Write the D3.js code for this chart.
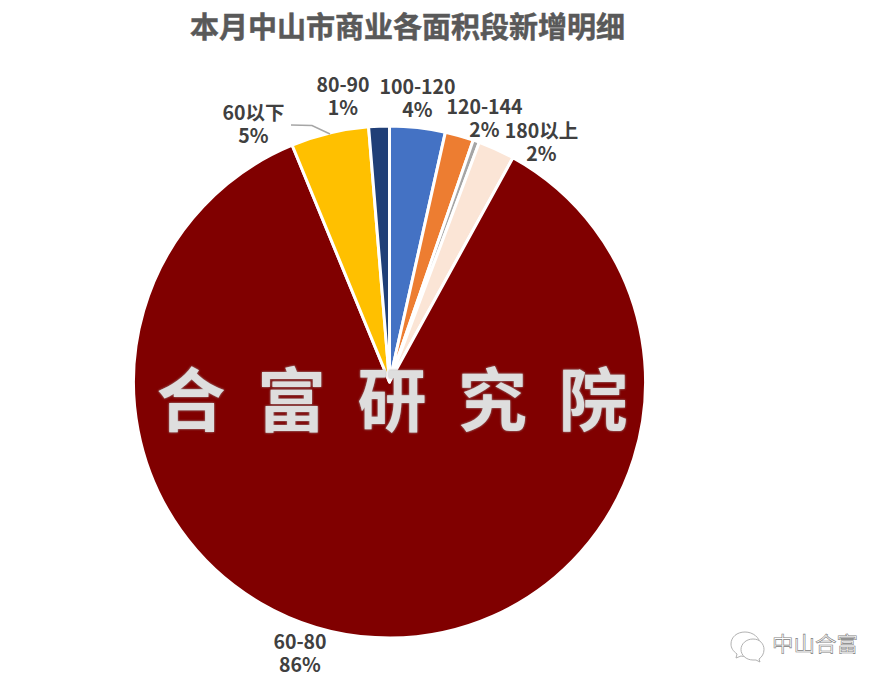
<!DOCTYPE html>
<html>
<head>
<meta charset="utf-8">
<script src="https://cdn.jsdelivr.net/npm/d3@7"></script>
<style>
    html, body { margin: 0; padding: 0; background: #fff; }
    svg { display: block; }
    text { font-family: "Noto Sans CJK SC", "Open Sans", sans-serif; }
</style>
</head>
<body>
<div id="chart"></div>
<script>
// Values, clockwise from 12 o'clock
const categories = ["100-120", "120-144", "144-180", "180以上", "60-80", "60以下", "80-90"];
const shares = [3.5, 1.8, 0.4, 2.3, 85.7, 4.9, 1.3];
const colors = ["#4472c4", "#ed7d31", "#a5a5a5", "#fbe5d6", "#800000", "#ffc000", "#203f77"];
const chartTitle = "本月中山市商业各面积段新增明细";
const watermark = "合富研究院";
const brand = "中山合富";

const width = 887;
const height = 683;
const cx = 389.5;
const cy = 382;
const radius = 256;

// Where each data label sits (the 144-180 slice has none)
const labelAt = {
    "100-120": [417.5, 94],
    "120-144": [484.5, 114],
    "180以上": [541.5, 138],
    "60-80": [300, 649],
    "60以下": [253.5, 120],
    "80-90": [343, 92]
};

const svg = d3.select("#chart")
    .append("svg")
    .attr("width", width)
    .attr("height", height);

const defs = svg.append("defs");
const bevel = defs.append("filter").attr("id", "bevel")
    .attr("x", "-10%").attr("y", "-10%").attr("width", "120%").attr("height", "120%");
bevel.append("feGaussianBlur").attr("in", "SourceAlpha").attr("stdDeviation", 1.3).attr("result", "b");
bevel.append("feFlood").attr("flood-color", "#a0a0a0").attr("result", "c");
bevel.append("feComposite").attr("in", "c").attr("in2", "b").attr("operator", "in").attr("result", "s");
const merge = bevel.append("feMerge");
merge.append("feMergeNode").attr("in", "s");
merge.append("feMergeNode").attr("in", "SourceGraphic");

// Title
svg.append("text")
    .attr("x", 407.5)
    .attr("y", 38)
    .attr("text-anchor", "middle")
    .attr("font-size", 29)
    .attr("font-weight", 700)
    .attr("fill", "#595959")
    .attr("stroke", "#595959")
    .attr("stroke-width", 0.5)
    .text(chartTitle);

// Pie
const color = d3.scaleOrdinal(categories, colors);
const pie = d3.pie().sort(null).value((d, i) => shares[i]);
const arc = d3.arc().innerRadius(0).outerRadius(radius);

svg.append("g")
    .attr("transform", `translate(${cx},${cy})`)
    .selectAll("path")
    .data(pie(categories))
    .join("path")
    .attr("d", arc)
    .attr("fill", d => color(d.data))
    .attr("stroke", "#fff")
    .attr("stroke-width", 3)
    .attr("stroke-linejoin", "round");

// Leader line for the 60以下 label
svg.append("path")
    .attr("d", d3.line()([[330, 134], [312, 125.5], [291, 125]]))
    .attr("fill", "none")
    .attr("stroke", "#a6a6a6")
    .attr("stroke-width", 1.5);

// Data labels: category on the first line, rounded share on the second
const labels = svg.append("g")
    .selectAll("text")
    .data(categories.filter(c => labelAt[c]))
    .join("text")
    .attr("text-anchor", "middle")
    .attr("font-size", 19.5)
    .attr("font-weight", 700)
    .attr("fill", "#404040");

labels.append("tspan")
    .attr("x", d => labelAt[d][0])
    .attr("y", d => labelAt[d][1])
    .text(d => d);

labels.append("tspan")
    .attr("x", d => labelAt[d][0])
    .attr("y", d => labelAt[d][1] + 23)
    .text(d => `${Math.round(shares[categories.indexOf(d)])}%`);

// Watermark over the pie
svg.append("g")
    .attr("filter", "url(#bevel)")
    .selectAll("text")
    .data(Array.from(watermark))
    .join("text")
    .attr("x", (d, i) => 191 + i * 100.5)
    .attr("y", 426)
    .attr("text-anchor", "middle")
    .attr("font-size", 69)
    .attr("font-weight", 700)
    .attr("fill", "#dedede")
    .text(d => d);

// WeChat mark, bottom right
const mark = svg.append("g")
    .attr("fill", "#fff")
    .attr("stroke", "#a8a8a8")
    .attr("stroke-width", 0.9);
mark.append("path").attr("d", "M745 632c-8 0-14 5-14 12 0 4 2 7 6 10l-1 4 5-2c2 .5 3 .6 5 .6 8 0 14-5 14-12s-7-12.6-15-12.6z");
mark.append("path").attr("d", "M753 639c-7 0-12 5-12 10.5s5 10.5 12 10.5l3 0 4 2-1-3c3-2 5-5.5 5-9.5 0-5.500-4-10.5-11-10.5z");

svg.append("text")
    .attr("x", 772)
    .attr("y", 652)
    .attr("font-size", 21.5)
    .attr("fill", "#fff")
    .attr("stroke", "#808080")
    .attr("stroke-width", 0.6)
    .style("text-rendering", "geometricPrecision")
    .text(brand);
</script>
</body>
</html>
